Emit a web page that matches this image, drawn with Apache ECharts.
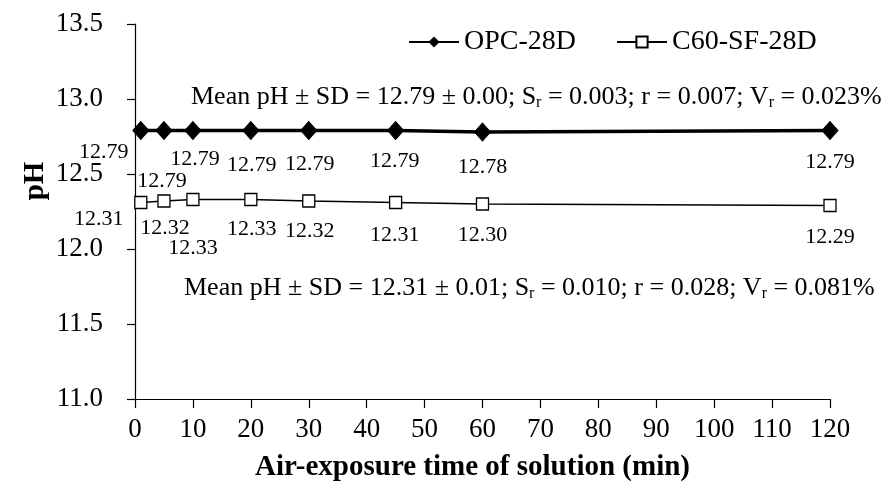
<!DOCTYPE html>
<html>
<head>
<meta charset="utf-8">
<script src="https://cdn.jsdelivr.net/npm/echarts@6/dist/echarts.min.js"></script>
<style>html,body{margin:0;padding:0;background:#fff}#c{width:886px;height:488px}</style>
</head>
<body>
<div id="c"></div>
<script>
const times = [1, 5, 10, 20, 30, 45, 60, 120];
const opcValues = [12.79, 12.79, 12.79, 12.79, 12.79, 12.79, 12.78, 12.79];
const c60Values = [12.31, 12.32, 12.33, 12.33, 12.32, 12.31, 12.30, 12.29];
const seriesNames = ['OPC-28D', 'C60-SF-28D'];
const yTicks = [11.0, 11.5, 12.0, 12.5, 13.0, 13.5];
const xTicks = [0, 10, 20, 30, 40, 50, 60, 70, 80, 90, 100, 110, 120];
// label offsets (style only)
const opcLabelOffsets = [[-37, 22], [-2, 51], [2, 29], [1, 35], [1, 34], [-1, 31], [0, 35], [0, 32]];
const c60LabelOffsets = [[-42, 17], [1, 27], [0, 49], [1, 30], [1, 30], [-1, 33], [0, 31], [0, 32]];
const ann1 = ['Mean pH ± SD = 12.79 ± 0.00; S', 'r', ' = 0.003; r = 0.007; V', 'r', ' = 0.023%'];
const ann2 = ['Mean pH ± SD = 12.31 ± 0.01; S', 'r', ' = 0.010; r = 0.028; V', 'r', ' = 0.081%'];

const FONT = 'Liberation Serif';
function build(vals, offs) {
  return vals.map((v, i) => ({
    value: [times[i], v],
    label: { offset: offs[i] }
  }));
}
function richText(parts) {
  return parts.map((p, i) => (i % 2 === 1 ? '{s|' + p + '}' : '{a|' + p + '}')).join('');
}
const richStyle = {
  a: { fontFamily: FONT, fontSize: 26, color: '#000' },
  s: { fontFamily: FONT, fontSize: 16, color: '#000', padding: [11, 0, 0, 0] }
};

const chart = echarts.init(document.getElementById('c'), null, { renderer: 'canvas' });
chart.setOption({
  animation: false,
  backgroundColor: '#fff',
  grid: { left: 135, right: 56, top: 24, bottom: 89, containLabel: false },
  legend: {
    top: 23,
    left: 403,
    itemWidth: 50,
    itemHeight: 14,
    itemGap: 40,
    textStyle: { fontFamily: FONT, fontSize: 28, color: '#000' },
    data: seriesNames
  },
  xAxis: {
    type: 'value',
    min: xTicks[0],
    max: xTicks[xTicks.length - 1],
    interval: 10,
    name: 'Air-exposure time of solution (min)',
    nameLocation: 'middle',
    nameGap: 54,
    nameTextStyle: { fontFamily: FONT, fontSize: 29, fontWeight: 'bold', color: '#000', padding: [0, 20, 0, 0] },
    axisLine: { lineStyle: { color: '#000', width: 1.2 } },
    axisTick: { show: true, length: 9, inside: false, lineStyle: { color: '#000', width: 1.2 } },
    axisLabel: { fontFamily: FONT, fontSize: 27, color: '#000', margin: 17 },
    splitLine: { show: false }
  },
  yAxis: {
    type: 'value',
    min: yTicks[0],
    max: yTicks[yTicks.length - 1],
    interval: 0.5,
    axisLine: { show: true, lineStyle: { color: '#000', width: 1.2 } },
    axisTick: { show: true, length: 8, inside: false, lineStyle: { color: '#000', width: 1.2 } },
    axisLabel: { fontFamily: FONT, fontSize: 27, color: '#000', margin: 32, formatter: v => v.toFixed(1) },
    splitLine: { show: false }
  },
  series: [
    {
      name: seriesNames[0],
      type: 'line',
      data: build(opcValues, opcLabelOffsets),
      symbol: 'diamond',
      symbolSize: [16, 18],
      lineStyle: { color: '#000', width: 3.5 },
      itemStyle: { color: '#000', borderColor: '#000' },
      label: {
        show: true, position: 'inside', fontFamily: FONT, fontSize: 22, color: '#000',
        formatter: p => p.value[1].toFixed(2)
      },
      z: 3
    },
    {
      name: seriesNames[1],
      type: 'line',
      data: build(c60Values, c60LabelOffsets),
      symbol: 'rect',
      symbolSize: 12,
      lineStyle: { color: '#000', width: 1.6 },
      itemStyle: { color: '#fff', borderColor: '#000', borderWidth: 1.3 },
      label: {
        show: true, position: 'inside', fontFamily: FONT, fontSize: 22, color: '#000',
        formatter: p => p.value[1].toFixed(2)
      },
      z: 2
    }
  ],
  graphic: [
    { type: 'text', left: 191, top: 84, style: { text: richText(ann1), rich: richStyle } },
    { type: 'text', left: 184, top: 275, style: { text: richText(ann2), rich: richStyle } },
    { type: 'text', x: 36, y: 181, rotation: Math.PI / 2,
      style: { text: 'pH', fontFamily: FONT, fontSize: 29, fontWeight: 'bold', fill: '#000', align: 'center', verticalAlign: 'middle' } }
  ]
});
</script>
</body>
</html>
